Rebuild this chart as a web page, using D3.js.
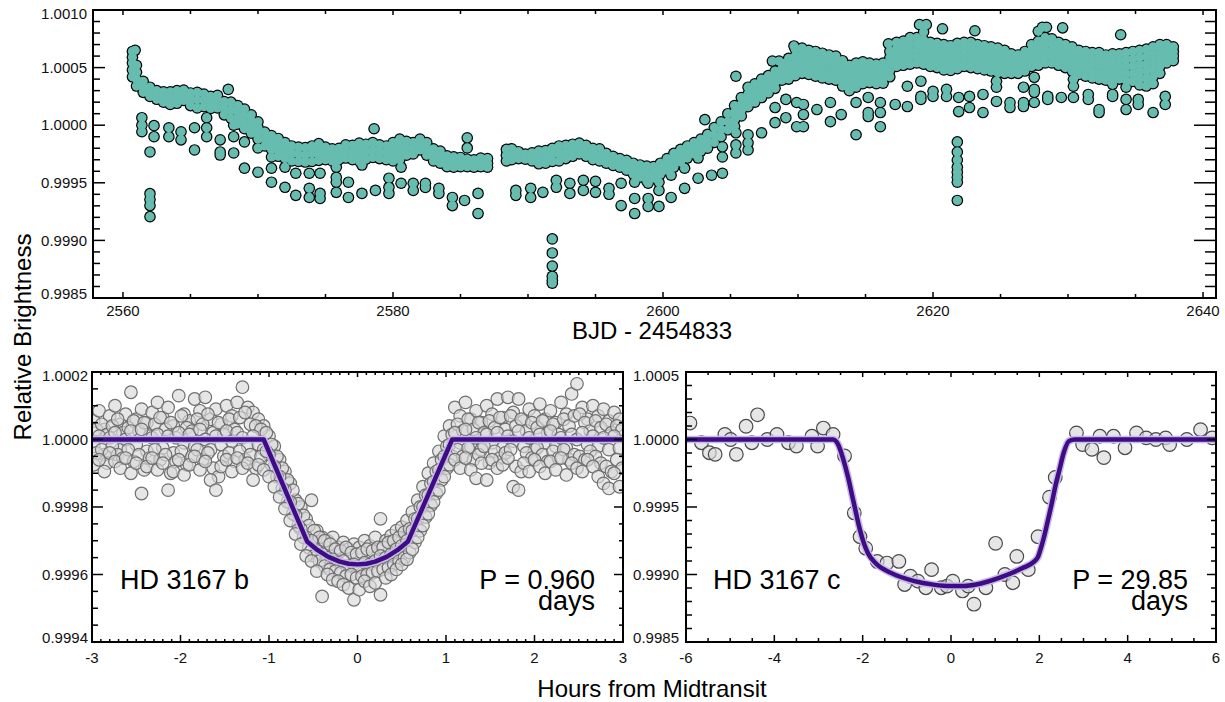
<!DOCTYPE html>
<html>
<head>
<meta charset="utf-8">
<title>HD 3167 light curve</title>
<script src="https://d3js.org/d3.v7.min.js"></script>
<style>
  body { margin: 0; background: #fff; }
  svg { display: block; font-family: "Liberation Sans", Arial, Helvetica, sans-serif; }
</style>
</head>
<body>
<script>
// all flux values are in ppm relative to 1.0

// top panel: K2 light curve, band read as columns [day, flux, flux, ...]
const topBand1 = [
  [2560.7, 640, 590, 540, 480, 420], [2561.0, 520, 460, 400, 340], [2561.5, 380, 330, 285],
  [2562.0, 330, 290, 250], [2562.5, 300, 260, 225], [2563.0, 290, 245, 200], [2563.5, 290, 235, 180],
  [2564.0, 300, 245, 190], [2564.5, 305, 260, 215], [2565.0, 280, 225, 170], [2565.5, 285, 220, 150],
  [2566.0, 270, 215, 160], [2566.5, 250, 195, 145], [2567.0, 260, 205, 150], [2567.5, 205, 150, 90],
  [2568.0, 200, 130, 60], [2568.5, 170, 110, 55, 10], [2569.0, 140, 80, 25, -30], [2569.5, 90, 35, -15, -70],
  [2570.0, 30, -20, -70, -120], [2570.5, -60, -120, -180], [2571.0, -90, -150, -210],
  [2571.5, -115, -165, -220, -270], [2572.0, -150, -200, -245, -290], [2572.5, -180, -245, -310],
  [2573.0, -190, -250, -315], [2573.5, -195, -260, -320], [2574.0, -180, -245, -315],
  [2574.5, -160, -210, -260, -305], [2575.0, -190, -245, -300], [2575.5, -205, -260, -310],
  [2576.0, -200, -250, -300], [2576.5, -170, -225, -285], [2577.0, -175, -240, -300],
  [2577.5, -155, -205, -260, -310], [2578.0, -165, -230, -295], [2578.5, -150, -215, -280],
  [2579.0, -170, -230, -290], [2579.5, -180, -240, -300], [2580.0, -150, -205, -260, -310],
  [2580.5, -120, -180, -240, -300], [2581.0, -140, -200, -260], [2581.5, -150, -200, -250],
  [2582.0, -120, -170, -215], [2582.5, -150, -205, -260], [2583.0, -205, -255, -310],
  [2583.5, -225, -280, -330], [2584.0, -265, -310, -360], [2584.5, -275, -320, -365],
  [2585.0, -280, -320, -360], [2585.5, -295, -330, -360], [2586.0, -300, -335, -365],
  [2586.5, -285, -320, -360], [2587.0, -290, -330, -365]
];
const topBand2 = [
  [2588.4, -210, -260, -310], [2588.8, -205, -250, -300], [2589.3, -230, -260, -290],
  [2589.8, -250, -275, -295], [2590.3, -240, -275, -310], [2590.8, -225, -280, -335],
  [2591.3, -220, -275, -330], [2591.8, -200, -255, -315], [2592.3, -180, -245, -310],
  [2592.8, -175, -230, -290], [2593.3, -165, -215, -270], [2593.8, -155, -200, -250],
  [2594.3, -175, -220, -270], [2594.8, -200, -250, -300], [2595.3, -205, -255, -310],
  [2595.8, -245, -290, -330], [2596.3, -270, -310, -350], [2596.8, -290, -330, -365],
  [2597.3, -305, -345, -390], [2597.8, -330, -375, -425], [2598.3, -345, -400, -450],
  [2598.8, -355, -420, -485], [2599.3, -360, -410, -460], [2599.8, -330, -375, -425],
  [2600.3, -290, -340, -390], [2600.8, -245, -305, -365], [2601.3, -210, -265, -320],
  [2601.8, -180, -230, -285], [2602.3, -150, -200, -250], [2602.8, -120, -170, -225],
  [2603.3, -80, -140, -200], [2603.8, -20, -85, -150], [2604.3, 30, -35, -100],
  [2604.8, 100, 30, -40], [2605.3, 170, 110, 50, -10], [2605.8, 240, 180, 130, 80],
  [2606.3, 330, 270, 215, 160], [2606.8, 360, 300, 250, 200], [2607.3, 400, 340, 290, 240],
  [2607.8, 430, 380, 330, 280], [2608.3, 470, 420, 370, 320], [2608.8, 540, 490, 440, 390],
  [2609.3, 580, 520, 460, 400], [2609.8, 660, 600, 540, 485, 430], [2610.3, 670, 610, 560, 505, 450],
  [2610.8, 650, 595, 545, 490, 440], [2611.3, 640, 585, 530, 475, 425], [2611.8, 625, 570, 515, 460, 410],
  [2612.3, 610, 555, 505, 450, 400], [2612.8, 600, 545, 495, 440, 390], [2613.3, 560, 505, 450, 395, 340],
  [2613.8, 520, 465, 410, 355, 300], [2614.3, 540, 490, 435, 380, 330], [2614.8, 550, 500, 455, 405, 360],
  [2615.3, 540, 495, 455, 410, 370], [2615.8, 530, 485, 445, 400, 360], [2616.3, 540, 495, 450, 405, 365],
  [2616.8, 640, 585, 530, 475, 420], [2617.3, 720, 665, 615, 560, 510], [2617.8, 730, 675, 625, 570, 520],
  [2618.3, 760, 705, 645, 590, 530], [2618.8, 760, 705, 650, 595, 540], [2619.3, 740, 685, 635, 580, 530],
  [2619.8, 720, 670, 615, 560, 510], [2620.3, 710, 655, 605, 550, 500], [2620.8, 700, 645, 590, 535, 480],
  [2621.3, 690, 635, 580, 530, 475], [2621.8, 710, 655, 600, 545, 490], [2622.3, 720, 665, 615, 560, 510],
  [2622.8, 720, 665, 610, 555, 500], [2623.3, 700, 645, 595, 540, 490], [2623.8, 690, 635, 585, 530, 480],
  [2624.3, 680, 625, 575, 520, 470], [2624.8, 670, 615, 560, 510, 455], [2625.3, 650, 600, 550, 500, 450],
  [2625.8, 620, 575, 535, 490, 450], [2626.3, 610, 570, 530, 490, 450], [2626.8, 640, 595, 555, 510, 470],
  [2627.3, 700, 650, 605, 555, 510], [2627.8, 730, 675, 625, 570, 520], [2628.3, 760, 705, 650, 595, 540],
  [2628.8, 750, 700, 645, 595, 540], [2629.3, 720, 670, 620, 570, 520], [2629.8, 700, 650, 600, 550, 500],
  [2630.3, 680, 630, 575, 525, 470], [2630.8, 650, 600, 545, 495, 440], [2631.3, 640, 585, 530, 480, 425],
  [2631.8, 630, 575, 520, 465, 410], [2632.3, 630, 570, 515, 455, 400], [2632.8, 610, 555, 500, 445, 390],
  [2633.3, 620, 565, 510, 455, 400], [2633.8, 620, 565, 510, 455, 400], [2634.3, 630, 570, 510, 450, 390],
  [2634.8, 640, 575, 510, 445, 380], [2635.3, 650, 590, 525, 465, 410, 350], [2635.8, 660, 595, 530, 470, 405, 340],
  [2636.3, 680, 615, 550, 485, 420, 360], [2636.8, 700, 640, 575, 510, 450], [2637.3, 700, 650, 595, 540],
  [2637.8, 680, 640, 600, 560]
];
// single cadences off the band: transits of b and c, plus a few high points
const topSingles = [
  [2560.9, 650], [2561.4, 65], [2561.4, 0], [2561.4, -57], [2562.0, -232],
  [2562.0, -594], [2562.0, -646], [2562.0, -698], [2562.0, -794], [2562.3, -4], [2562.3, -100],
  [2563.4, -22], [2563.4, -100], [2564.3, -57], [2564.3, -127], [2565.3, -22], [2565.3, -215],
  [2566.2, 65], [2566.2, -22], [2566.2, -100], [2567.2, -127], [2567.2, -232], [2567.2, -259],
  [2567.8, 311], [2568.2, 0], [2568.2, -100], [2568.2, -241], [2569.0, -145], [2569.0, -373],
  [2570.0, -197], [2570.0, -408], [2571.0, -276], [2571.0, -373], [2571.0, -495],
  [2572.0, -364], [2572.0, -539], [2572.8, -417], [2572.8, -609],
  [2573.8, -417], [2573.8, -548], [2573.8, -627], [2574.6, -417], [2574.6, -592], [2574.6, -636],
  [2575.8, -364], [2575.8, -452], [2575.8, -495], [2575.8, -583], [2576.7, -495], [2576.7, -627],
  [2577.7, -346], [2577.7, -592], [2578.6, -31], [2578.7, -566],
  [2579.7, -460], [2579.7, -539], [2579.7, -592], [2580.6, -364], [2580.6, -504],
  [2581.5, -504], [2581.5, -566], [2582.4, -504], [2582.4, -540], [2583.4, -548], [2583.4, -592],
  [2584.4, -627], [2584.4, -698], [2585.3, -653], [2585.5, -110], [2585.5, -197],
  [2586.3, -592], [2586.3, -767], [2589.1, -566], [2589.1, -609], [2590.2, -548], [2590.2, -627],
  [2591.1, -583], [2591.8, -987], [2591.8, -1109], [2591.8, -1223], [2591.8, -1311], [2591.8, -1345], [2591.8, -1372],
  [2592.1, -478], [2592.1, -539], [2593.1, -504], [2593.1, -592], [2594.1, -478], [2594.1, -566],
  [2595.0, -487], [2595.0, -583], [2596.0, -548], [2596.0, -600], [2596.9, -504], [2596.9, -698],
  [2597.9, -495], [2597.9, -636], [2597.9, -767], [2598.9, -504], [2598.9, -636], [2598.9, -705],
  [2599.7, -495], [2599.7, -566], [2599.7, -705], [2600.6, -434], [2600.6, -627],
  [2601.6, -373], [2601.6, -548], [2602.6, -285], [2602.6, -460], [2603.1, 48], [2603.6, -434],
  [2604.4, -188], [2604.4, -276], [2604.4, -417], [2605.4, 425], [2605.4, -66], [2605.4, -171], [2605.4, -241],
  [2606.3, -83], [2606.3, -153], [2606.3, -215], [2607.3, -66], [2608.1, 557], [2608.6, 557],
  [2608.3, 153], [2608.3, 22], [2609.1, 224], [2609.1, 65], [2609.7, 688], [2609.9, 197], [2609.9, -13],
  [2610.4, 180], [2610.4, 92], [2610.4, -13], [2611.4, 136], [2612.4, 197], [2612.4, 31],
  [2613.2, 92], [2614.3, 197], [2614.3, -83], [2615.2, 241], [2615.2, 110], [2615.2, 75],
  [2616.1, 197], [2616.1, 110], [2616.1, -13], [2616.7, 706], [2617.2, 180], [2618.1, 338], [2618.1, 162],
  [2619.0, 873], [2619.5, 873], [2619.3, 810], [2619.1, 382], [2619.1, 250], [2619.1, 224],
  [2620.0, 294], [2620.0, 250], [2620.7, 837], [2621.0, 311], [2621.0, 250],
  [2621.8, -145], [2621.8, -232], [2621.8, -302], [2621.8, -364], [2621.8, -408], [2621.8, -452],
  [2621.8, -495], [2621.8, -653], [2621.9, 241], [2621.9, 118], [2622.7, 250], [2622.7, 153],
  [2623.1, 820], [2623.7, 267], [2623.7, 110], [2624.7, 382], [2624.7, 330], [2624.7, 206],
  [2625.7, 197], [2625.7, 153], [2626.7, 330], [2626.7, 197], [2626.7, 162],
  [2627.5, 416], [2627.5, 311], [2627.5, 285], [2627.5, 197], [2627.8, 815], [2628.1, 850], [2628.4, 850],
  [2628.5, 224], [2628.5, 250], [2629.5, 241], [2629.6, 845], [2630.4, 399], [2630.4, 338], [2630.4, 241],
  [2631.5, 267], [2631.5, 224], [2632.3, 136], [2632.3, 110], [2633.3, 355], [2633.3, 267], [2633.3, 250],
  [2633.9, 785], [2634.3, 330], [2634.3, 224], [2634.3, 136], [2635.2, 224], [2635.2, 180],
  [2636.3, 110], [2637.2, 250], [2637.2, 180]
];

// HD 3167 b, phase folded (hours from midtransit)
const bHours = [-2.98, -2.92, -2.86, -2.80, -2.74, -2.68, -2.62, -2.56, -2.50, -2.44, -2.38, -2.32, -2.26, -2.20,
  -2.14, -2.08, -2.02, -1.96, -1.90, -1.84, -1.78, -1.72, -1.66, -1.60, -1.54, -1.48, -1.42, -1.36, -1.30, -1.24,
  -1.18, -1.12, -1.06, -1.00, -0.94, -0.88, -0.82, -0.76, -0.70, -0.64, -0.58, -0.52, -0.46, -0.40, -0.34, -0.28,
  -0.22, -0.16, -0.10, -0.04, 0.02, 0.08, 0.14, 0.20, 0.26, 0.32, 0.38, 0.44, 0.50, 0.56, 0.62, 0.68, 0.74, 0.80,
  0.86, 0.92, 0.98, 1.04, 1.10, 1.16, 1.22, 1.28, 1.34, 1.40, 1.46, 1.52, 1.58, 1.64, 1.70, 1.76, 1.82, 1.88, 1.94,
  2.00, 2.06, 2.12, 2.18, 2.24, 2.30, 2.36, 2.42, 2.48, 2.54, 2.60, 2.66, 2.72, 2.78, 2.84, 2.90, 2.96];
const bFluxA = [55, 85, 30, 70, 100, 45, 75, 140, 60, 90, 50, 80, 110, 65, 95, 40, 130, 75, 55, 120, 85, 125, 60, 90,
  45, 100, 70, 110, 155, 95, 80, 60, 40, 10, -20, -60, -95, -130, -180, -200, -235, -180, -270, -290, -300, -290,
  -320, -305, -325, -310, -320, -300, -315, -290, -235, -300, -285, -270, -260, -240, -215, -180, -140, -100, -70,
  -35, 10, 40, 95, 70, 110, 60, 85, 50, 100, 75, 120, 65, 125, 80, 120, 55, 90, 70, 105, 60, 85, 50, 110, 75, 135,
  165, 95, 60, 100, 70, 90, 55, 80, 60];
const bFluxB = [-20, 10, -45, 5, 20, -30, 0, 25, -15, 30, -35, 5, 15, -25, 10, -40, 20, -10, 15, -20, 30, 0, -30, 10,
  -15, 25, -5, 20, 5, -20, 10, -15, -30, -45, -80, -110, -150, -185, -225, -265, -290, -300, -330, -340, -350, -355,
  -365, -360, -375, -370, -380, -365, -370, -360, -345, -350, -340, -325, -315, -300, -270, -235, -200, -165, -125,
  -90, -50, -15, 20, -10, 30, -20, 5, -30, 15, -10, 20, -25, 10, -5, 25, -20, 5, -30, 15, -10, 25, -20, 5, -25, 15,
  0, 20, -15, 10, -20, 5, -30, 10, -25];
const bFluxC = [-75, -60, -95, -40, -65, -85, -55, -100, -70, -160, -80, -55, -90, -70, -150, -95, -60, -105, -75, -50,
  -90, -65, -120, -150, -80, -60, -95, -55, -85, -70, -120, -75, -90, -110, -140, -170, -205, -240, -280, -310, -345,
  -360, -390, -465, -400, -415, -420, -430, -440, -475, -445, -420, -435, -425, -460, -410, -400, -385, -370, -355,
  -325, -290, -255, -220, -185, -150, -110, -75, -60, -85, -55, -90, -115, -70, -120, -60, -85, -75, -55, -140, -150,
  -70, -95, -60, -80, -100, -65, -90, -55, -105, -70, -85, -95, -60, -80, -110, -130, -145, -100, -140];
// second set of cadences, offset in phase
const bHours2 = [-2.95, -2.89, -2.83, -2.77, -2.71, -2.65, -2.59, -2.53, -2.47, -2.41, -2.35, -2.29, -2.23, -2.17,
  -2.11, -2.05, -1.99, -1.93, -1.87, -1.81, -1.75, -1.69, -1.63, -1.57, -1.51, -1.45, -1.39, -1.33, -1.27, -1.21,
  -1.15, -1.09, -1.03, -0.97, -0.91, -0.85, -0.79, -0.73, -0.67, -0.61, -0.55, -0.49, -0.43, -0.37, -0.31, -0.25,
  -0.19, -0.13, -0.07, -0.01, 0.05, 0.11, 0.17, 0.23, 0.29, 0.35, 0.41, 0.47, 0.53, 0.59, 0.65, 0.71, 0.77, 0.83,
  0.89, 0.95, 1.01, 1.07, 1.13, 1.19, 1.25, 1.31, 1.37, 1.43, 1.49, 1.55, 1.61, 1.67, 1.73, 1.79, 1.85, 1.91, 1.97,
  2.03, 2.09, 2.15, 2.21, 2.27, 2.33, 2.39, 2.45, 2.51, 2.57, 2.63, 2.69, 2.75, 2.81, 2.87, 2.93, 2.99];
const bFluxD = [30, 45, 15, 40, 60, 20, 35, 55, 25, 50, 10, 45, 65, 30, 50, 5, 70, 35, 25, 60, 45, 75, 20, 50, 15,
  60, 30, 65, 80, 45, 40, 30, 20, -15, -50, -85, -120, -150, -190, -225, -255, -270, -290, -300, -310, -325, -330,
  -320, -335, -340, -335, -325, -330, -320, -320, -305, -300, -290, -275, -265, -235, -200, -165, -130, -95, -60,
  -20, 15, 45, 25, 60, 30, 50, 20, 55, 35, 65, 30, 70, 40, 60, 25, 50, 35, 55, 20, 45, 15, 60, 40, 70, 75, 50, 25,
  55, 35, 45, 20, 40, 30];
const bFluxE = [-40, -30, -70, -20, -45, -55, -30, -65, -45, -90, -55, -30, -60, -45, -100, -65, -35, -75, -50, -30,
  -60, -40, -85, -110, -50, -40, -65, -35, -60, -45, -85, -50, -35, -75, -110, -145, -185, -220, -255, -290, -320,
  -345, -360, -375, -385, -390, -395, -405, -400, -410, -405, -400, -395, -390, -385, -380, -370, -360, -350, -335,
  -305, -270, -230, -195, -160, -120, -85, -50, -30, -50, -25, -60, -45, -20, -70, -35, -55, -40, -30, -80, -95, -40,
  -55, -25, -45, -65, -35, -55, -30, -60, -45, -50, -60, -35, -50, -70, -80, -95, -60, -85];
const bModelHours = [-3, -1.06, -0.57, -0.45, -0.33, -0.2, -0.1, 0, 0.1, 0.2, 0.33, 0.45, 0.57, 1.07, 3];
const bModelFlux = [0, 0, -302, -328, -348, -362, -368, -370, -368, -362, -348, -328, -302, 0, 0];

// HD 3167 c, phase folded
const cHours = [-5.91, -5.65, -5.47, -5.34, -5.12, -4.99, -4.86, -4.64, -4.51, -4.38, -4.16, -3.94, -3.68, -3.50,
  -3.15, -3.02, -2.89, -2.67, -2.41, -2.19, -2.06, -1.93, -1.67, -1.45, -1.18, -1.05, -0.92, -0.75, -0.57, -0.44,
  -0.22, -0.09, 0.04, 0.26, 0.39, 0.52, 0.79, 1.01, 1.22, 1.40, 1.49, 1.75, 1.97, 2.23, 2.36, 2.84, 2.98, 3.19,
  3.37, 3.46, 3.68, 3.94, 4.20, 4.42, 4.64, 4.86, 4.95, 5.34, 5.65, 5.91];
const cFlux = [122, -24, -98, -110, 37, 0, -110, 98, -24, 183, 0, 37, -24, -49, 24, -49, 85, 37, -122, -544, -720,
  -805, -903, -915, -903, -1074, -1013, -1049, -1098, -964, -1098, -1086, -1049, -1122, -1086, -1220, -1098, -769,
  -1000, -1061, -866, -964, -720, -427, -281, 49, -37, -73, 24, -134, 24, -61, 49, 12, 0, 12, -37, 0, 73, 12];
const cModelHours = [-6, -2.67, -2.55, -2.45, -2.33, -2.23, -2.14, -2.06, -1.97, -1.88, -1.71, -1.36, -0.83, -0.4,
  0, 0.3, 0.57, 1.09, 1.62, 1.88, 1.97, 2.04, 2.1, 2.2, 2.28, 2.36, 2.45, 2.55, 2.67, 2.8, 6];
const cModelFlux = [0, 0, -40, -134, -280, -427, -560, -671, -770, -842, -915, -988, -1049, -1075, -1086, -1085,
  -1074, -1025, -952, -905, -870, -800, -730, -590, -476, -350, -232, -100, -12, 0, 0];

// tick labels
const topXTicks = [2560, 2580, 2600, 2620, 2640];
const topYTicks = [0.9985, 0.9990, 0.9995, 1.0000, 1.0005, 1.0010];
const bXTicks = [-3, -2, -1, 0, 1, 2, 3];
const bYTicks = [0.9994, 0.9996, 0.9998, 1.0000, 1.0002];
const cXTicks = [-6, -4, -2, 0, 2, 4, 6];
const cYTicks = [0.9985, 0.9990, 0.9995, 1.0000, 1.0005];

const width = 1225, height = 702;
const teal = "#65bcaf";
const rel = v => 1 + v * 1e-6;

const svg = d3.select("body").append("svg")
  .attr("width", width)
  .attr("height", height);

function minorTicks(domain, step) {
  const lo = Math.ceil(Math.min(...domain) / step - 1e-6);
  const hi = Math.floor(Math.max(...domain) / step + 1e-6);
  return d3.range(lo, hi + 1).map(i => i * step);
}

// box with inward ticks on four sides, labels left and bottom
function frame(g, x, y, o) {
  const [x0, x1] = x.range();
  const [y0, y1] = y.range(); // bottom, top
  const t = g.append("g").attr("stroke", "#000").attr("stroke-width", 1.5);
  const isMajor = (v, list) => list.some(m => Math.abs(m - v) < 1e-9);
  minorTicks(x.domain(), o.xStep).forEach(v => {
    const big = isMajor(v, o.xTicks);
    const lb = big ? o.xLen[0] : o.xLen[1];
    const lt = big ? o.xTopLen[0] : o.xTopLen[1];
    t.append("line").attr("x1", x(v)).attr("x2", x(v)).attr("y1", y0).attr("y2", y0 - lb);
    t.append("line").attr("x1", x(v)).attr("x2", x(v)).attr("y1", y1).attr("y2", y1 + lt);
  });
  minorTicks(y.domain(), o.yStep).forEach(v => {
    const big = isMajor(v, o.yTicks);
    const ll = big ? o.yLen[0] : o.yLen[1];
    const lr = big ? o.yRightLen[0] : o.yRightLen[1];
    t.append("line").attr("x1", x0).attr("x2", x0 + ll).attr("y1", y(v)).attr("y2", y(v));
    t.append("line").attr("x1", x1).attr("x2", x1 - lr).attr("y1", y(v)).attr("y2", y(v));
  });
  g.append("rect")
    .attr("x", x0).attr("y", y1)
    .attr("width", x1 - x0).attr("height", y0 - y1)
    .attr("fill", "none").attr("stroke", "#000").attr("stroke-width", 2);

  const n = o.yTicks.length;
  g.selectAll("text.ylab").data(o.yTicks).join("text")
    .attr("class", "ylab")
    .attr("x", x0 - o.yPad)
    .attr("y", (d, i) => y(d) + (i === 0 ? -4 : i === n - 1 ? 4 : 0))
    .attr("dy", "0.35em")
    .attr("text-anchor", "end")
    .attr("font-size", 15)
    .attr("fill", "#111")
    .text(d => d.toFixed(4));
  g.selectAll("text.xlab").data(o.xTicks).join("text")
    .attr("class", "xlab")
    .attr("x", d => x(d))
    .attr("y", y0 + o.xPad)
    .attr("text-anchor", "middle")
    .attr("font-size", 15)
    .attr("fill", "#111")
    .text(d => String(d));
}

// ---------- top panel ----------
const xTop = d3.scaleLinear().domain([2557.78, 2640.96]).range([93, 1216]);
const yTop = d3.scaleLinear().domain([0.9985, 1.0010]).range([298, 10]);

const topPoints = [];
topBand1.concat(topBand2).forEach(col => {
  col.slice(1).forEach(f => topPoints.push([col[0], f]));
});
topSingles.forEach(p => topPoints.push(p));

const gTop = svg.append("g");
// black discs first, teal discs on top: outlines only show at the edges of the band
gTop.append("g").selectAll("circle").data(topPoints).join("circle")
  .attr("cx", d => xTop(d[0]))
  .attr("cy", d => yTop(rel(d[1])))
  .attr("r", 5.8)
  .attr("fill", "#000");
gTop.append("g").selectAll("circle").data(topPoints).join("circle")
  .attr("cx", d => xTop(d[0]))
  .attr("cy", d => yTop(rel(d[1])))
  .attr("r", 4.6)
  .attr("fill", teal);

frame(gTop, xTop, yTop, {
  xTicks: topXTicks, yTicks: topYTicks, xStep: 5, yStep: 0.0001,
  xLen: [6, 4], xTopLen: [5, 4], yLen: [12, 7], yRightLen: [22, 11],
  yPad: 6, xPad: 18
});

// ---------- bottom panels ----------
function scatterPanel(id, x, y, sets, r, stroke) {
  const g = svg.append("g");
  const [x0, x1] = x.range();
  const [y0, y1] = y.range();
  svg.append("clipPath").attr("id", id)
    .append("rect").attr("x", x0).attr("y", y1).attr("width", x1 - x0).attr("height", y0 - y1);
  const pts = [];
  sets.forEach(([hours, flux]) => flux.forEach((f, i) => pts.push([hours[i], f])));
  g.append("g").attr("clip-path", `url(#${id})`)
    .selectAll("circle").data(pts).join("circle")
    .attr("cx", d => x(d[0]))
    .attr("cy", d => y(rel(d[1])))
    .attr("r", r)
    .attr("fill", "#d8d8d8")
    .attr("fill-opacity", 0.65)
    .attr("stroke", stroke)
    .attr("stroke-width", 1.2);
  return g;
}

function modelLine(g, x, y, hours, flux, curve) {
  const line = d3.line()
    .x((d, i) => x(hours[i]))
    .y(d => y(rel(d)))
    .curve(curve);
  g.append("path").attr("d", line(flux))
    .attr("fill", "none").attr("stroke", "#c4bbe6").attr("stroke-width", 7.5)
    .attr("stroke-linejoin", "round");
  g.append("path").attr("d", line(flux))
    .attr("fill", "none").attr("stroke", "#3f0c85").attr("stroke-width", 4.5)
    .attr("stroke-linejoin", "round");
}

function label(g, x, y, lines, anchor) {
  const t = g.append("text")
    .attr("text-anchor", anchor)
    .attr("font-size", 27)
    .attr("fill", "#000");
  lines.forEach((s, i) => {
    t.append("tspan").attr("x", x).attr("y", y + i * 21).text(s);
  });
}

// HD 3167 b
const xB = d3.scaleLinear().domain([-3, 3]).range([92, 623]);
const yB = d3.scaleLinear().domain([0.9994, 1.0002]).range([642, 372]);
const gB = scatterPanel("clipB", xB, yB,
  [[bHours, bFluxA], [bHours2, bFluxD], [bHours, bFluxB], [bHours2, bFluxE], [bHours, bFluxC]], 6.3, "#707070");
modelLine(gB, xB, yB, bModelHours, bModelFlux, d3.curveLinear);
frame(gB, xB, yB, {
  xTicks: bXTicks, yTicks: bYTicks, xStep: 0.1, yStep: 0.00005,
  xLen: [7, 3], xTopLen: [5, 3], yLen: [11, 6], yRightLen: [9, 4],
  yPad: 4, xPad: 21
});
label(gB, 120, 589, ["HD 3167 b"], "start");
label(gB, 595, 589, ["P = 0.960", "days"], "end");

// HD 3167 c
const xC = d3.scaleLinear().domain([-6, 6]).range([686, 1216]);
const yC = d3.scaleLinear().domain([0.9985, 1.0005]).range([642, 372]);
const gC = scatterPanel("clipC", xC, yC, [[cHours, cFlux]], 6.8, "#4a4a4a");
modelLine(gC, xC, yC, cModelHours, cModelFlux, d3.curveMonotoneX);
frame(gC, xC, yC, {
  xTicks: cXTicks, yTicks: cYTicks, xStep: 0.5, yStep: 0.0001,
  xLen: [7, 4], xTopLen: [5, 3], yLen: [11, 6], yRightLen: [9, 5],
  yPad: 7, xPad: 21
});
label(gC, 713, 589, ["HD 3167 c"], "start");
label(gC, 1188, 589, ["P = 29.85", "days"], "end");

// ---------- axis titles ----------
svg.append("text")
  .attr("x", 652).attr("y", 339)
  .attr("text-anchor", "middle")
  .attr("font-size", 24)
  .text("BJD - 2454833");
svg.append("text")
  .attr("x", 652).attr("y", 697)
  .attr("text-anchor", "middle")
  .attr("font-size", 24)
  .text("Hours from Midtransit");
svg.append("text")
  .attr("transform", "translate(31,337) rotate(-90)")
  .attr("text-anchor", "middle")
  .attr("font-size", 24)
  .text("Relative Brightness");
</script>
</body>
</html>
